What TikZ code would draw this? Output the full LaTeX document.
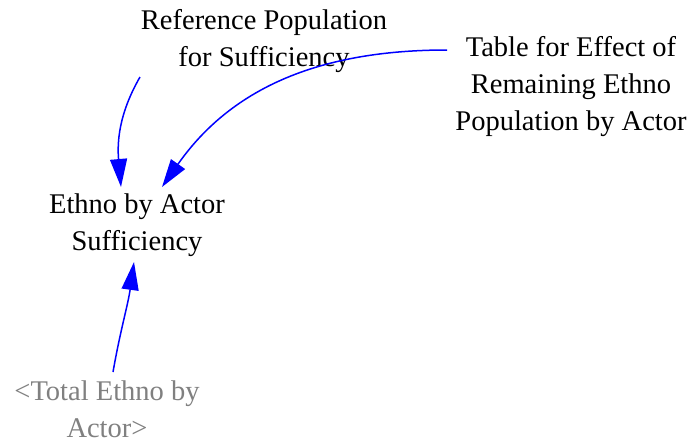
\documentclass[tikz,border=0pt]{standalone}
\usepackage{fontspec}
\setmainfont{LiberationSerif}[Extension=.ttf,UprightFont=*-Regular,BoldFont=*-Bold,ItalicFont=*-Italic]
\usetikzlibrary{arrows.meta,calc}
\tikzset{
  var/.style={align=center,inner sep=0pt,font=\fontsize{28.5}{37}\selectfont},
  shadow/.style={var,text=black!50},
  conn/.style={draw={rgb,255:red,0;green,0;blue,255},line width=1.5pt,-{Triangle[length=28pt,width=17pt]}}
}
\begin{document}
\begin{tikzpicture}[x=1pt,y=1pt]
\useasboundingbox (0,0) rectangle (691,-442);
\node[var] (ref) at (264,-41) {Reference Population\\for Sufficiency};
\node[var] (tab) at (571,-87) {Table for Effect of\\Remaining Ethno\\Population by Actor};
\node[var] (eth) at (137,-225) {Ethno by Actor\\Sufficiency};
\node[shadow] (tot) at (107,-409) {<Total Ethno by\\Actor>};
\draw[conn] ($(ref.center)+(-124,-36)$) to[out=-120,in=95] ($(eth.center)+(-16,38)$);
\draw[conn] ($(tab.center)+(-124,37)$) to[out=180,in=55] ($(eth.center)+(25,38)$);
\draw[conn] ($(tot.center)+(6,37)$) to[out=80,in=-98] ($(eth.center)+(-3,-37)$);
\end{tikzpicture}
\end{document}
